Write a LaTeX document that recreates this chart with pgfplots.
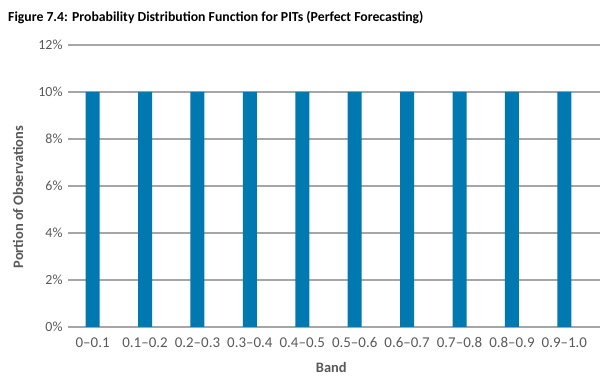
\documentclass[border=0pt]{standalone}
\usepackage{pgfplots}
\pgfplotsset{compat=1.18}
\usepackage{fontspec}
\setmainfont{Carlito}
\definecolor{barblue}{RGB}{0,121,176}
\definecolor{gridgray}{RGB}{166,166,166}
\definecolor{labgray}{RGB}{89,89,89}
\begin{document}
\begin{tikzpicture}
\path[use as bounding box] (0,0) rectangle (602bp,380bp);
\node[anchor=west,font=\fontsize{13.8}{15}\selectfont\bfseries,inner sep=0pt] at (8bp,362bp) {Figure 7.4: Probability Distribution Function for PITs (Perfect Forecasting)};
\begin{axis}[
  at={(68bp,53bp)}, anchor=south west,
  scale only axis, width=532bp, height=282bp,
  xmin=-0.47, xmax=9.68, ymin=0, ymax=12,
  ytick={0,2,4,6,8,10,12},
  yticklabel={\pgfmathprintnumber{\tick}\%},
  xtick={0,...,9},
  xticklabels={0--0.1,0.1--0.2,0.2--0.3,0.3--0.4,0.4--0.5,0.5--0.6,0.6--0.7,0.7--0.8,0.8--0.9,0.9--1.0},
  /pgf/number format/assume math mode=true,
  ymajorgrids, grid style={gridgray, line width=1.2pt},
  axis x line*=bottom, axis y line*=left,
  y axis line style={draw=none},
  x axis line style={gridgray, line width=1.2pt, -},
  major tick length=0pt,
  yticklabel style={font=\fontsize{14}{16}\selectfont, text=labgray, xshift=-2bp},
  xticklabel style={font=\fontsize{15}{17}\selectfont, text=labgray, yshift=-7bp},
  xlabel={Band}, ylabel={Portion of Observations},
  every axis y label/.style={at={(axis description cs:-0.094,0.46)}, rotate=90, anchor=center, font=\fontsize{14.5}{16}\selectfont\bfseries, text=labgray},
  every axis x label/.style={at={(axis description cs:0.495,-0.142)}, anchor=center, font=\fontsize{14.5}{16}\selectfont\bfseries, text=labgray},
  ybar, bar width=14bp, bar shift=0pt,
]
\addplot[fill=barblue, draw=none] coordinates {(0,10) (1,10) (2,10) (3,10) (4,10) (5,10) (6,10) (7,10) (8,10) (9,10)};
\end{axis}
\end{tikzpicture}
\end{document}
